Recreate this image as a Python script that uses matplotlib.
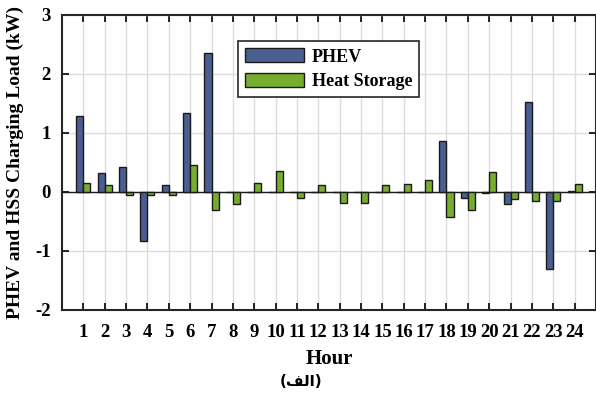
import numpy as np
import matplotlib.pyplot as plt

hours = np.arange(1, 25)
phev = [1.29, 0.32, 0.42, -0.83, 0.12, 1.33, 2.36, 0.0, 0.0, 0.0, 0.0, 0.0,
        0.0, 0.0, 0.0, 0.0, 0.0, 0.87, -0.10, -0.02, -0.21, 1.53, -1.30, 0.02]
heat = [0.15, 0.12, -0.06, -0.06, -0.05, 0.46, -0.30, -0.20, 0.15, 0.36, -0.10, 0.12,
        -0.18, -0.19, 0.12, 0.14, 0.21, -0.42, -0.31, 0.33, -0.12, -0.15, -0.15, 0.14]

plt.rcParams['font.family'] = ['Liberation Serif', 'DejaVu Serif']
plt.rcParams['font.weight'] = 'bold'
plt.rcParams['axes.unicode_minus'] = False

fig = plt.figure(figsize=(5.96, 4.03), dpi=100)
ax = fig.add_axes([0.104, 0.231, 0.896, 0.732])

w = 0.33
ax.bar(hours - w / 2, phev, w, color='#4a5f8f', edgecolor='#1a1a1a', linewidth=1.0,
       label='PHEV', zorder=3)
ax.bar(hours + w / 2, heat, w, color='#76ad2f', edgecolor='#1a1a1a', linewidth=1.0,
       label='Heat Storage', zorder=3)
ax.axhline(0, color='#1a1a1a', linewidth=1.0, zorder=2)

ax.set_xlim(0, 25)
ax.set_ylim(-2, 3)
ax.set_xticks(hours)
ax.set_yticks(range(-2, 4))
ax.tick_params(direction='in', length=5, width=1.2, top=True, right=True,
               labelsize=13.5)
ax.tick_params(axis='x', pad=10)
ax.tick_params(axis='y', pad=8)
for lab in ax.get_xticklabels() + ax.get_yticklabels():
    lab.set_fontweight('bold')
ax.grid(True, color='#dcdcdc', linewidth=1.0, zorder=0)
ax.set_axisbelow(True)
for s in ax.spines.values():
    s.set_linewidth(1.5)
    s.set_color('#262626')

ax.set_xlabel('Hour', fontsize=15, fontweight='bold', labelpad=6)
ax.set_ylabel('PHEV and HSS Charging Load (kW)', fontsize=14, fontweight='bold', labelpad=8)

leg = ax.legend(loc='upper left', bbox_to_anchor=(0.329, 0.912), fancybox=False,
                edgecolor='#262626', framealpha=1, fontsize=13, handlelength=3.3,
                handleheight=0.85, borderpad=0.4, labelspacing=0.4, handletextpad=0.4,
                borderaxespad=0)
leg.get_frame().set_linewidth(1.2)

# presentation forms so the letters join without a shaping engine
fig.text(0.505, 0.054, '(\ufed2\ufedf\ufe8d)', family=['DejaVu Sans'], fontsize=11,
         fontweight='bold', ha='center', va='center')

fig.savefig('out.png', dpi=100)
